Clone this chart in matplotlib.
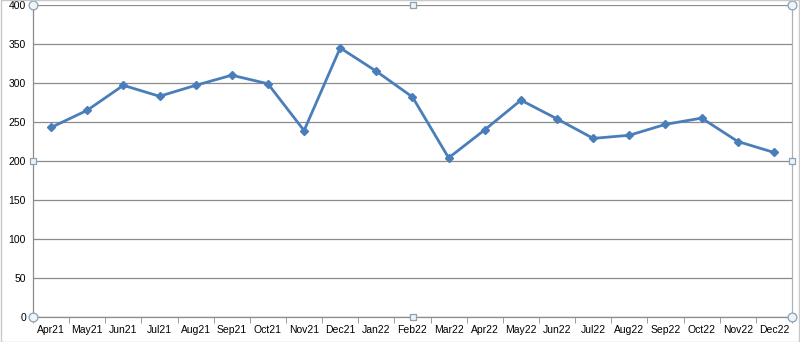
import matplotlib
matplotlib.use("Agg")
import matplotlib.pyplot as plt
from matplotlib.patches import Rectangle

months = ["Apr21", "May21", "Jun21", "Jul21", "Aug21", "Sep21", "Oct21", "Nov21",
          "Dec21", "Jan22", "Feb22", "Mar22", "Apr22", "May22", "Jun22", "Jul22",
          "Aug22", "Sep22", "Oct22", "Nov22", "Dec22"]
values = [243, 265, 297, 283, 297, 310, 299, 239, 345, 315, 282, 204, 240, 278,
          254, 229, 233, 247, 255, 225, 211]
y_ticks = [0, 50, 100, 150, 200, 250, 300, 350, 400]

LINE_COLOR = "#4a7ebb"
GRID_COLOR = "#8c8c8c"

plt.rcParams["font.family"] = ["Liberation Sans", "DejaVu Sans"]

fig = plt.figure(figsize=(8, 3.42), dpi=100)
ax = fig.add_axes([33 / 800, 25 / 342, 759 / 800, 312 / 342])

x = list(range(len(months)))
ax.plot(x, values, color=LINE_COLOR, linewidth=2.0, marker="D", markersize=4.5,
        markerfacecolor=LINE_COLOR, markeredgecolor=LINE_COLOR, zorder=3)

ax.set_xlim(-0.5, len(months) - 0.5)
ax.set_ylim(0, 400)
ax.set_yticks(y_ticks)
ax.set_xticks(x)
ax.set_xticklabels(months, fontsize=7.5)
ax.set_xticks([i - 0.5 for i in range(len(months) + 1)], minor=True)
ax.tick_params(axis="x", which="major", length=0, pad=6)
ax.tick_params(axis="x", which="minor", length=4, color=GRID_COLOR, direction="out")
ax.tick_params(axis="y", length=0, pad=5, labelsize=7.5)
ax.grid(axis="y", color=GRID_COLOR, linewidth=0.9)
ax.set_axisbelow(True)

for side in ["left", "bottom", "right"]:
    ax.spines[side].set_color(GRID_COLOR)
    ax.spines[side].set_linewidth(0.9)
ax.spines["top"].set_visible(False)
ax.spines["right"].set_color("#b0b0b0")

# selection handles, as in the screenshot
handle_kw = dict(transform=ax.transAxes, clip_on=False, zorder=5,
                 facecolor="#eef4f8", edgecolor="#8aa2b4", linewidths=0.9)
ax.scatter([0, 1, 0, 1], [0, 0, 1, 1], marker="o", s=40, **handle_kw)
ax.scatter([0.5, 0.5, 0, 1], [0, 1, 0.5, 0.5], marker="s", s=22, **handle_kw)

fig.patches.append(Rectangle((0.001, 0.001), 0.998, 0.998, transform=fig.transFigure,
                             fill=False, edgecolor="#c8c8c8", linewidth=1.0))

fig.savefig("out.png", dpi=100)
